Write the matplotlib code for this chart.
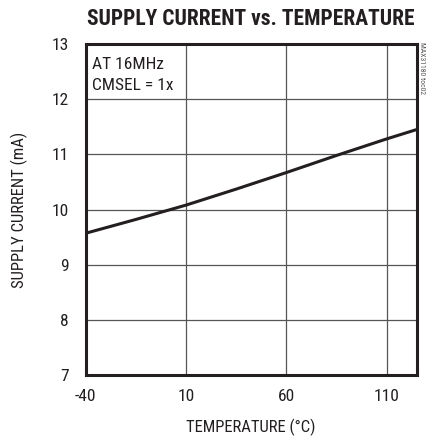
import numpy as np
import matplotlib
matplotlib.use("Agg")
import matplotlib.pyplot as plt

# supply current vs temperature
temperature = [-40, -15, 10, 35, 60, 85, 110, 125]
current_ma = [9.57, 9.82, 10.08, 10.37, 10.67, 10.98, 11.28, 11.45]

x_ticks = [-40, 10, 60, 110]
y_ticks = [7, 8, 9, 10, 11, 12, 13]

narrow = ['Roboto Condensed', 'Archivo Narrow', 'Barlow Condensed', 'DejaVu Sans']
plt.rcParams['font.family'] = narrow
plt.rcParams['axes.unicode_minus'] = False

fig = plt.figure(figsize=(4.27, 4.38), dpi=100)
ax = fig.add_axes([0.2007, 0.1438, 0.7753, 0.7557])

ax.plot(temperature, current_ma, color='#231f20', linewidth=2.2)

ax.set_xlim(-40, 125)
ax.set_ylim(7, 13)
ax.set_xticks(x_ticks)
ax.set_yticks(y_ticks)
ax.grid(True, color='#555555', linewidth=0.9)
ax.tick_params(axis='y', length=0, labelsize=12.5, pad=12, colors='#231f20')
ax.tick_params(axis='x', length=0, labelsize=12.5, pad=10, colors='#231f20')
for s in ax.spines.values():
    s.set_linewidth(2.2)
    s.set_color('#231f20')

ax.set_xlabel('TEMPERATURE (°C)', fontsize=12, color='#231f20', labelpad=11)
ax.set_ylabel('SUPPLY CURRENT (mA)', fontsize=12, color='#231f20', labelpad=17)
ax.set_title('SUPPLY CURRENT vs. TEMPERATURE', fontsize=15.5, fontweight='bold',
             color='#231f20', pad=14)

ax.text(-36.9, 12.76, 'AT 16MHz\nCMSEL = 1x', fontsize=12.5, va='top', ha='left',
        color='#231f20', linespacing=1.45)

fig.text(0.989, 0.905, 'MAX31180 toc02', rotation=270, fontsize=5.5, va='top',
         ha='center', color='#555555')

fig.savefig('out.png', dpi=100)
